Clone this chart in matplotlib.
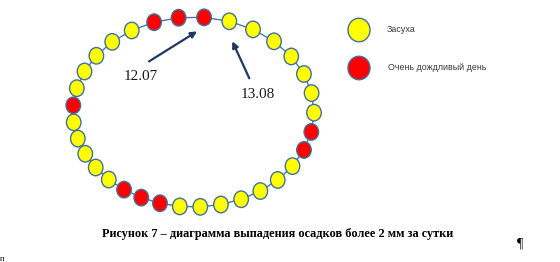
"""
Ring diagram of daily precipitation (> 2 mm per day), 12.07 - 13.08.
Each circle is one day, going counter-clockwise from the 12.07 arrow.
"""

import matplotlib.pyplot as plt
import numpy as np
from matplotlib.patches import Ellipse

# ---------------------------------------------------------------------------
# Data
# ---------------------------------------------------------------------------

START_DATE = "12.07"
END_DATE = "13.08"
# 1 = very rainy day (> 2 mm), 0 = dry day; chronological order
RAINY = [1, 1, 1, 0, 0, 0, 0, 0, 1, 0, 0, 0, 0, 0, 1, 1, 1,
         0, 0, 0, 0, 0, 0, 0, 1, 1, 0, 0, 0, 0, 0, 0, 0]
LEGEND_LABELS = ["Засуха", "Очень дождливый день"]
CAPTION = "Рисунок 7 – диаграмма выпадения осадков более 2 мм за сутки"

DRY_COLOR = "#FFFF00"
RAIN_COLOR = "#FF0000"
EDGE_COLOR = "#41719C"
LINE_COLOR = "#4A76B8"
ARROW_COLOR = "#1F3864"

# ring layout (pixel space of a 560x262 canvas)
CX, CY, RX, RY = 193.5, 112.0, 120.5, 95.0
PIVOT = (-0.0714, -0.109)      # in unit-ellipse coordinates
PHASE = 81.8                   # degrees, angle of first day seen from pivot


# ---------------------------------------------------------------------------
# Layout helpers
# ---------------------------------------------------------------------------

def ring_positions(n):
    """Equal angular steps seen from PIVOT, projected onto the ellipse."""
    pu, pv = PIVOT
    phi = np.deg2rad(PHASE + 360.0 / n * np.arange(n))
    du, dv = np.cos(phi), np.sin(phi)
    pd = pu * du + pv * dv
    lam = -pd + np.sqrt(pd ** 2 - (pu ** 2 + pv ** 2) + 1.0)
    u, v = pu + lam * du, pv + lam * dv
    return CX + RX * u, CY - RY * v


def _arrow(ax, head, tail):
    ax.annotate("", xy=head, xytext=tail,
                arrowprops=dict(arrowstyle="-|>", color=ARROW_COLOR,
                                lw=1.6, mutation_scale=9,
                                shrinkA=0, shrinkB=0),
                zorder=5)


# ---------------------------------------------------------------------------
# Main plot
# ---------------------------------------------------------------------------

def plot(save_path="out.png"):
    fig = plt.figure(figsize=(5.6, 2.62), dpi=100)
    ax = fig.add_axes([0, 0, 1, 1])
    ax.set_xlim(0, 560)
    ax.set_ylim(262, 0)
    ax.axis("off")

    xs, ys = ring_positions(len(RAINY))

    # connecting line
    ax.plot(np.append(xs, xs[0]), np.append(ys, ys[0]),
            color=LINE_COLOR, linewidth=1.0, zorder=1)

    # day circles
    for x, y, r in zip(xs, ys, RAINY):
        ax.add_patch(Ellipse((x, y), width=14.5, height=16.5,
                             facecolor=RAIN_COLOR if r else DRY_COLOR,
                             edgecolor=EDGE_COLOR, linewidth=1.0, zorder=2))

    # start / end arrows with dates
    x0, y0 = xs[0], ys[0]
    _arrow(ax, (x0 - 7, y0 + 14), (x0 - 55, y0 + 44))
    ax.text(x0 - 63, y0 + 59, START_DATE, ha="center", va="center",
            fontsize=11, family="Liberation Serif", color="#1a1a1a")

    x1, y1 = xs[-1], ys[-1]
    _arrow(ax, (x1 + 3, y1 + 20), (x1 + 20, y1 + 57))
    ax.text(x1 + 28, y1 + 73, END_DATE, ha="center", va="center",
            fontsize=11, family="Liberation Serif", color="#1a1a1a")

    # legend
    for i, (label, color) in enumerate(zip(LEGEND_LABELS,
                                           [DRY_COLOR, RAIN_COLOR])):
        ly = 30 + 38 * i
        ax.add_patch(Ellipse((359, ly), width=22, height=23.5,
                             facecolor=color, edgecolor=EDGE_COLOR,
                             linewidth=1.0, zorder=2))
        ax.text(387 + i, ly, label, ha="left", va="center",
                fontsize=6.4, family="Liberation Sans", color="#3a3a3a")

    # caption and text marks
    ax.text(278, 234, CAPTION, ha="center", va="center", fontsize=8.8,
            family="Liberation Serif", weight="bold", color="black")
    ax.text(520, 244, "¶", ha="center", va="center", fontsize=10,
            family="Liberation Serif", color="black")
    ax.text(0, 259, "п", ha="left", va="center", fontsize=6,
            family="Liberation Serif", color="black")

    fig.savefig(save_path, dpi=100)
    plt.close(fig)


if __name__ == "__main__":
    plot()
